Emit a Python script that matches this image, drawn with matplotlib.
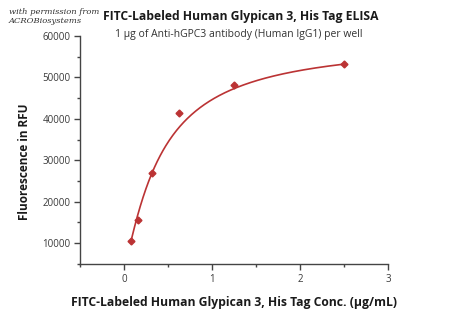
import numpy as np
import matplotlib
matplotlib.use("Agg")
import matplotlib.pyplot as plt
from matplotlib.ticker import MultipleLocator

# Data
conc = [0.078, 0.156, 0.3125, 0.625, 1.25, 2.5]  # ug/mL
rfu = [10550, 15500, 26950, 41400, 48200, 53200]

# 4PL fit parameters (bottom, top, EC50, hill) estimated from the drawn curve
fit_bottom, fit_top, fit_ec50, fit_hill = 4000, 59000, 0.42, 1.2

title = "FITC-Labeled Human Glypican 3, His Tag ELISA"
subtitle = "1 \u03bcg of Anti-hGPC3 antibody (Human IgG1) per well"
xlabel = "FITC-Labeled Human Glypican 3, His Tag Conc. (\u03bcg/mL)"
ylabel = "Fluorescence in RFU"

red = "#bb3334"
axis_col = "#444444"
plt.rcParams["font.family"] = ["Open Sans", "DejaVu Sans"]

fig = plt.figure(figsize=(4.5, 3.16), dpi=100)
ax = fig.add_axes([0.178, 0.165, 0.684, 0.721])

xs = np.linspace(conc[0], conc[-1], 300)
ys = fit_top + (fit_bottom - fit_top) / (1 + (xs / fit_ec50) ** fit_hill)
ax.plot(xs, ys, color=red, lw=1.2)
ax.plot(conc, rfu, "D", color=red, ms=3.5, mec=red)

ax.set_xlim(-0.5, 3)
ax.set_ylim(5000, 60000)
ax.xaxis.set_major_locator(MultipleLocator(1))
ax.xaxis.set_minor_locator(MultipleLocator(0.5))
ax.yaxis.set_major_locator(MultipleLocator(10000))
ax.yaxis.set_minor_locator(MultipleLocator(5000))
ax.set_yticks([10000, 20000, 30000, 40000, 50000, 60000])

for s in ["top", "right"]:
    ax.spines[s].set_visible(False)
for s in ["left", "bottom"]:
    ax.spines[s].set_color(axis_col)
    ax.spines[s].set_linewidth(1.0)
ax.tick_params(which="major", length=4, width=1, color=axis_col,
               labelsize=7, labelcolor="#3a3a3a", pad=3)
ax.tick_params(which="minor", length=2.5, width=1, color=axis_col)

ax.set_xlabel(xlabel, fontsize=8.7, fontweight="bold", color="#1a1a1a", labelpad=8)
ax.set_ylabel(ylabel, fontsize=8.5, fontweight="bold", color="#1a1a1a")
ax.yaxis.set_label_coords(-0.158, 0.45)

fig.text(0.535, 0.948, title, ha="center", va="center", fontsize=8.7,
         fontweight="bold", color="#1a1a1a")
fig.text(0.53, 0.89, subtitle, ha="center", va="center", fontsize=7.5,
         color="#333333")
fig.text(0.02, 0.948, "with permission from\nACROBiosystems", ha="left",
         va="center", fontsize=6, style="italic", family="DejaVu Serif",
         color="#333333", linespacing=1.1)

fig.savefig("out.png", dpi=100)
